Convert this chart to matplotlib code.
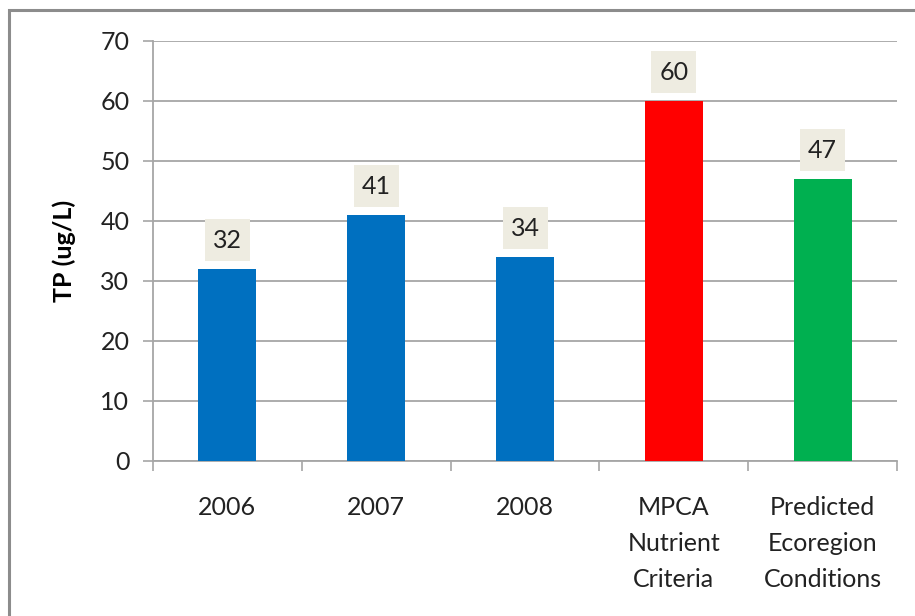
import matplotlib.pyplot as plt
from matplotlib.patches import Rectangle
from matplotlib.transforms import ScaledTranslation
import numpy as np

# chart data
categories = ["2006", "2007", "2008", "MPCA\nNutrient\nCriteria", "Predicted\nEcoregion\nConditions"]
tp_values = [32, 41, 34, 60, 47]
bar_colors = ["#0070C0", "#0070C0", "#0070C0", "#FF0000", "#00B050"]
y_ticks = [0, 10, 20, 30, 40, 50, 60, 70]

plt.rcParams["font.family"] = ["Lato", "DejaVu Sans"]

fig = plt.figure(figsize=(9.15, 6.16), dpi=100)
ax = fig.add_axes([153 / 915, 1 - 461 / 616, (897 - 153) / 915, (461 - 41) / 616])

x = np.arange(len(categories))
bars = ax.bar(x, tp_values, width=0.39, color=bar_colors, zorder=3)

# value labels in beige boxes (box sized in inches, anchored at bar top)
for bar, value in zip(bars, tp_values):
    cx = bar.get_x() + bar.get_width() / 2
    anchor = fig.dpi_scale_trans + ScaledTranslation(cx, value, ax.transData)
    ax.add_patch(Rectangle((-0.225, 0.08), 0.45, 0.42, transform=anchor,
                           facecolor="#EEECE1", edgecolor="none",
                           zorder=4, clip_on=False))
    ax.text(0, 0.29, f"{value}", transform=anchor, ha="center", va="center",
            fontsize=18, color="#222222", zorder=5)

ax.set_xlim(-0.5, len(categories) - 0.5)
ax.set_ylim(0, 70)
ax.set_yticks(y_ticks)
ax.tick_params(axis="y", length=7, width=1.2, color="#A6A6A6", pad=10, labelsize=18, labelcolor="#222222")

ax.set_xticks(x)
ax.set_xticklabels(categories, fontsize=18, color="#222222", linespacing=1.7)
ax.set_xticks(np.arange(len(categories) + 1) - 0.5, minor=True)
ax.tick_params(axis="x", which="major", length=0, pad=25)
ax.tick_params(axis="x", which="minor", length=7, width=1.2, color="#A6A6A6")

ax.yaxis.grid(True, color="#A6A6A6", linewidth=1.3, zorder=0)
ax.set_axisbelow(True)

for side in ["top", "right"]:
    ax.spines[side].set_visible(False)
for side in ["left", "bottom"]:
    ax.spines[side].set_color("#A6A6A6")
    ax.spines[side].set_linewidth(1.3)

ax.set_ylabel("TP (ug/L)", fontsize=18, fontweight="bold")
ax.yaxis.set_label_coords(-0.103, 0.50)

# outer chart border
fig.patches.append(
    Rectangle((8.5 / 915, -0.1), 1.2, 1 - 9.5 / 616 + 0.1,
              transform=fig.transFigure, fill=False,
              edgecolor="#8C8C8C", linewidth=2.2)
)

fig.savefig("out.png", dpi=100)
